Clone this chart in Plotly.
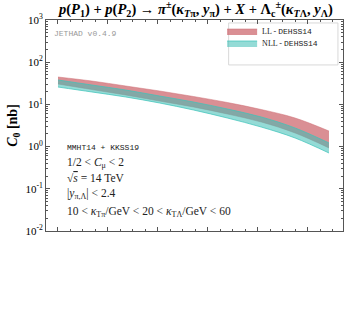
import plotly.graph_objects as go

# Valeurs (kappa_T Lambda en GeV, C0 en nb)
kappa = [20, 25, 30, 35, 40, 45, 50, 55, 60]
ll_haut = [44.6, 35.8, 27.3, 20.8, 15.4, 11.1, 7.57, 4.76, 2.34]
ll_bas = [30.4, 22.5, 16.7, 12.0, 8.68, 5.92, 3.83, 2.10, 0.93]
nll_haut = [37.9, 28.8, 21.9, 15.8, 11.4, 7.78, 5.03, 2.76, 1.22]
nll_bas = [25.8, 19.7, 15.0, 10.8, 7.37, 4.76, 2.91, 1.60, 0.705]

y_ticks = [-2, -1, 0, 1, 2, 3]
y_ticktext = ["10<sup>%d</sup>" % e for e in y_ticks]

serif = "Liberation Serif"
mono = "Liberation Mono"


def bande(fig, haut, bas, nom, couleur_fill, couleur_ligne, leg):
    # bord inférieur puis bord supérieur rempli jusqu'au précédent
    fig.add_trace(go.Scatter(x=kappa, y=bas, mode="lines", showlegend=False, hoverinfo="skip",
                             line=dict(color=couleur_ligne, width=0.8, shape="spline")))
    fig.add_trace(go.Scatter(x=kappa, y=haut, mode="lines", name=nom, hoverinfo="skip",
                             fill="tonexty", fillcolor=couleur_fill, legend=leg,
                             line=dict(color=couleur_ligne, width=0.8, shape="spline")))


fig = go.Figure()
bande(fig, ll_haut, ll_bas,
      "LL - <span style='font-family:Liberation Mono'>DEHSS14</span>",
      "rgba(205,105,112,0.75)", "rgba(205,105,112,0.6)", "legend")
bande(fig, nll_haut, nll_bas,
      "NLL - <span style='font-family:Liberation Mono'>DEHSS14</span>",
      "rgba(60,190,180,0.55)", "rgba(60,195,185,0.9)", "legend2")

# Cadre de la légende
fig.add_shape(type="rect", xref="paper", yref="paper", x0=0.615, x1=0.983, y0=0.787, y1=0.986,
              line=dict(color="#d8d8d8", width=1), fillcolor="white", layer="below")

annots = [
    dict(x=0.02, y=0.935, text="JETHAD v0.4.9", font=dict(family=mono, size=8, color="#999999")),
    dict(x=0.065, y=0.398, text="MMHT14 + KKSS19", font=dict(family=mono, size=8, color="#222222")),
    dict(x=0.065, y=0.322, text="1/2 &lt; <i>C</i><sub>μ</sub> &lt; 2", font=dict(family=serif, size=11.5, color="#222222")),
    dict(x=0.065, y=0.25, text="√<span style='text-decoration:overline'><i>s</i></span> = 14 TeV",
         font=dict(family=serif, size=11.5, color="#222222")),
    dict(x=0.065, y=0.175, text="|<i>y</i><sub>π,Λ</sub>| &lt; 2.4", font=dict(family=serif, size=11.5, color="#222222")),
    dict(x=0.065, y=0.09,
         text="10 &lt; <i>κ</i><sub>Tπ</sub>/GeV &lt; 20 &lt; <i>κ</i><sub>TΛ</sub>/GeV &lt; 60",
         font=dict(family=serif, size=11.5, color="#222222")),
]
for a in annots:
    fig.add_annotation(xref="paper", yref="paper", xanchor="left", yanchor="middle",
                       showarrow=False, **a)

titre = ("<b><i>p</i>(<i>P</i><sub>1</sub>) + <i>p</i>(<i>P</i><sub>2</sub>) → "
         "<i>π</i><sup>±</sup>(<i>κ</i><sub><i>T</i>π</sub>, <i>y</i><sub>π</sub>) + <i>X</i> + "
         "Λ<sub>c</sub><sup>±</sup>(<i>κ</i><sub><i>T</i>Λ</sub>, <i>y</i><sub>Λ</sub>)</b>")
fig.add_annotation(xref="paper", yref="paper", x=0.5, y=1.05, xanchor="center", yanchor="middle",
                   showarrow=False, text=titre, font=dict(family=serif, size=14.5, color="black"))

leg_style = dict(xanchor="left", yanchor="middle", bgcolor="rgba(0,0,0,0)", borderwidth=0,
                 font=dict(family=serif, size=8, color="#222222"), itemwidth=30)

fig.update_layout(
    width=349, height=328,
    margin=dict(l=46, r=6, t=20, b=97),
    paper_bgcolor="white", plot_bgcolor="white",
    font=dict(family=serif, size=10, color="black"),
    showlegend=True,
    legend=dict(x=0.593, y=0.948, **leg_style),
    legend2=dict(x=0.593, y=0.891, **leg_style),
)

fig.update_xaxes(
    range=[18.23, 62.07], showgrid=False, zeroline=False, automargin=False,
    showline=True, linecolor="#555555", linewidth=1, mirror="ticks",
    ticks="inside", ticklen=4, tickcolor="#555555",
    tick0=27.38, dtick=7.38, showticklabels=False,
    minor=dict(ticks="inside", ticklen=2, tick0=20.0, dtick=1.845, tickcolor="#555555"),
)
fig.update_yaxes(
    type="log", range=[-2, 3], showgrid=False, zeroline=False, automargin=False,
    showline=True, linecolor="#555555", linewidth=1, mirror="ticks",
    ticks="inside", ticklen=4, tickcolor="#555555",
    tickvals=[10.0 ** e for e in y_ticks], ticktext=y_ticktext,
    tickfont=dict(family=serif, size=11),
    minor=dict(ticks="inside", ticklen=2, dtick="D1", tickcolor="#555555"),
    title=dict(text="<b><i>C</i><sub>0</sub> [nb]</b>", font=dict(family=serif, size=14), standoff=4),
)

# la page ajoute par défaut une marge de 8 px : on la supprime, et pas de barre d'outils
fig.write_html("out.html", config={"displayModeBar": False},
               post_script="document.body.style.margin='0';")
